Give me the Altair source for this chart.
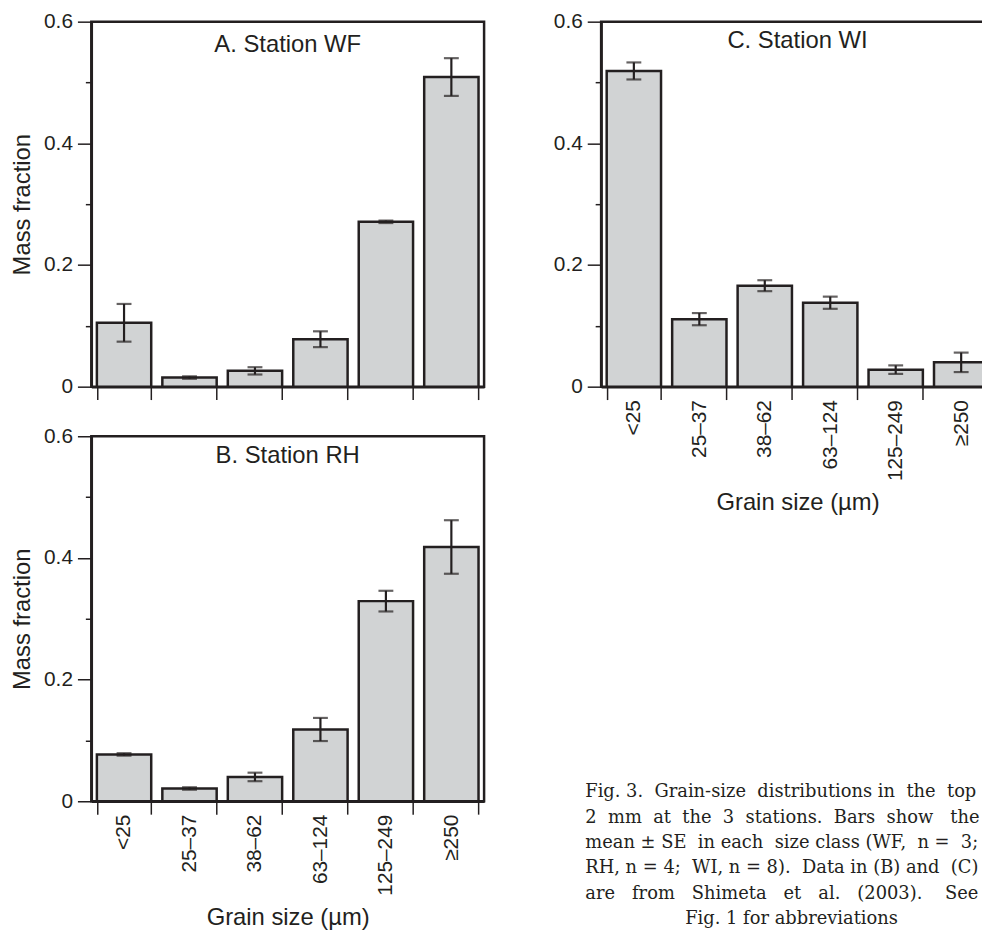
import altair as alt
import pandas as pd

# ---------------- data ----------------
sizes = ["<25", "25–37", "38–62", "63–124", "125–249", "≥250"]

wf_mean = [0.105, 0.015, 0.026, 0.078, 0.271, 0.509]
wf_se = [0.031, 0.002, 0.006, 0.013, 0.002, 0.031]

rh_mean = [0.077, 0.021, 0.040, 0.118, 0.329, 0.418]
rh_se = [0.002, 0.002, 0.007, 0.019, 0.017, 0.044]

wi_mean = [0.519, 0.111, 0.166, 0.138, 0.028, 0.040]
wi_se = [0.014, 0.010, 0.009, 0.010, 0.007, 0.016]

y_ticks = [0, 0.1, 0.2, 0.3, 0.4, 0.5, 0.6]

panel_titles = ["A. Station WF", "B. Station RH", "C. Station WI"]
x_title = "Grain size (µm)"
y_title = "Mass fraction"

caption_lines = [
    "Fig. 3. Grain-size distributions in the top",
    "2 mm at the 3 stations. Bars show the",
    "mean ± SE in each size class (WF, n = 3;",
    "RH, n = 4; WI, n = 8). Data in (B) and (C)",
    "are from Shimeta et al. (2003). See",
    "Fig. 1 for abbreviations",
]
# extra (non-breaking) spaces per line to imitate the justified caption
caption_extra = [4, 9, 4, 3, 13, 0]

# ---------------- style ----------------
INK = "#231f20"
FILL = "#d1d3d4"
FONT = "Liberation Sans"
SERIF = "DejaVu Serif"
W, H = 396, 368


def justify(line, extra):
    words = line.split(" ")
    gaps = len(words) - 1
    if gaps <= 0 or extra <= 0:
        return line
    out = words[0]
    for i, w in enumerate(words[1:]):
        n = ((i + 1) * extra) // gaps - (i * extra) // gaps
        out += " " + "\u00a0" * n + w
    return out


def panel(means, ses, title, title_dy, show_x_labels, show_y_title):
    df = pd.DataFrame({"size": sizes, "mean": means, "se": ses})
    base = alt.Chart(df).transform_calculate(
        lo="datum.mean - datum.se", hi="datum.mean + datum.se"
    )

    x_axis_kw = dict(
        tickBand="extent", tickSize=13, tickWidth=1.5, tickColor=INK,
        domainColor=INK, domainWidth=2.5, labels=show_x_labels,
    )
    if show_x_labels:
        x_axis_kw.update(
            labelAngle=-90, labelPadding=0, labelFontSize=21, labelFont=FONT,
            labelColor=INK, title=x_title, titleFontSize=24, titleFont=FONT,
            titleColor=INK, titleFontWeight="normal", titlePadding=10,
        )
    else:
        x_axis_kw.update(title=None)

    y_axis_kw = dict(
        values=y_ticks,
        labelExpr="round(datum.value*10) % 2 == 0 ? (datum.value == 0 ? '0' : format(datum.value, '.1f')) : ''",
        tickSize={"condition": {"test": "round(datum.value*10) % 2 == 0", "value": 14}, "value": 6},
        tickWidth=1.5, tickColor=INK, domainColor=INK, domainWidth=2.5, grid=False,
        labelFontSize=21, labelFont=FONT, labelColor=INK, labelPadding=5,
    )
    if show_y_title:
        y_axis_kw.update(
            title=y_title, titleFontSize=24, titleFont=FONT, titleColor=INK,
            titleFontWeight="normal", titlePadding=9,
        )
    else:
        y_axis_kw.update(title=None)

    x = alt.X(
        "size:N", sort=sizes,
        scale=alt.Scale(paddingInner=0.17, paddingOuter=0.085),
        axis=alt.Axis(**x_axis_kw),
    )
    yscale = alt.Scale(domain=[0, 0.6])

    bars = base.mark_bar(fill=FILL, stroke=INK, strokeWidth=2.5).encode(
        x=x, y=alt.Y("mean:Q", scale=yscale, axis=alt.Axis(**y_axis_kw))
    )
    err = base.mark_rule(color=INK, strokeWidth=2.2).encode(
        x=alt.X("size:N", sort=sizes), y="lo:Q", y2="hi:Q"
    )
    cap_lo = base.mark_tick(color=INK, thickness=2.2, size=15).encode(
        x=alt.X("size:N", sort=sizes), y="lo:Q"
    )
    cap_hi = base.mark_tick(color=INK, thickness=2.2, size=15).encode(
        x=alt.X("size:N", sort=sizes), y="hi:Q"
    )
    ttl = alt.Chart(pd.DataFrame({"t": [title]})).mark_text(
        font=FONT, fontSize=24, color=INK, baseline="middle", align="center"
    ).encode(text="t:N", x=alt.value(W / 2), y=alt.value(title_dy))

    return alt.layer(bars, err, cap_lo, cap_hi, ttl).properties(
        width=W, height=H, view=alt.ViewBackground(stroke=INK, strokeWidth=2.5)
    )


pA = panel(wf_mean, wf_se, panel_titles[0], 24, False, True)
pB = panel(rh_mean, rh_se, panel_titles[1], 20, True, True)
pC = panel(wi_mean, wi_se, panel_titles[2], 20, True, False)

# caption
texts = [justify(l, e) for l, e in zip(caption_lines, caption_extra)]
cap_df = pd.DataFrame({"line": list(range(5)), "text": texts[:5]})
last_df = pd.DataFrame({"line": [5], "text": [texts[5]]})
cap_y = alt.Y("line:Q", scale=alt.Scale(domain=[0, 5], range=[257, 385]), axis=None)
cap_body = alt.Chart(cap_df).mark_text(
    font=SERIF, fontSize=18, align="left", baseline="middle", color=INK
).encode(x=alt.value(-16), y=cap_y, text="text:N")
cap_last = alt.Chart(last_df).mark_text(
    font=SERIF, fontSize=18, align="center", baseline="middle", color=INK
).encode(x=alt.value(192), y=cap_y, text="text:N")
caption = alt.layer(cap_body, cap_last).properties(
    width=380, height=392, view=alt.ViewBackground(stroke="transparent")
)

left = alt.vconcat(pA, pB, spacing=22)
right = alt.vconcat(pC, caption, spacing=20)
chart = alt.hconcat(left, right, spacing=66).properties(
    autosize=alt.AutoSizeParams(type="none"),
    padding={"left": 84, "top": 10, "right": 898, "bottom": 912},
).configure(font=FONT)

chart.save("out.html", embed_options={"renderer": "svg", "actions": False})
